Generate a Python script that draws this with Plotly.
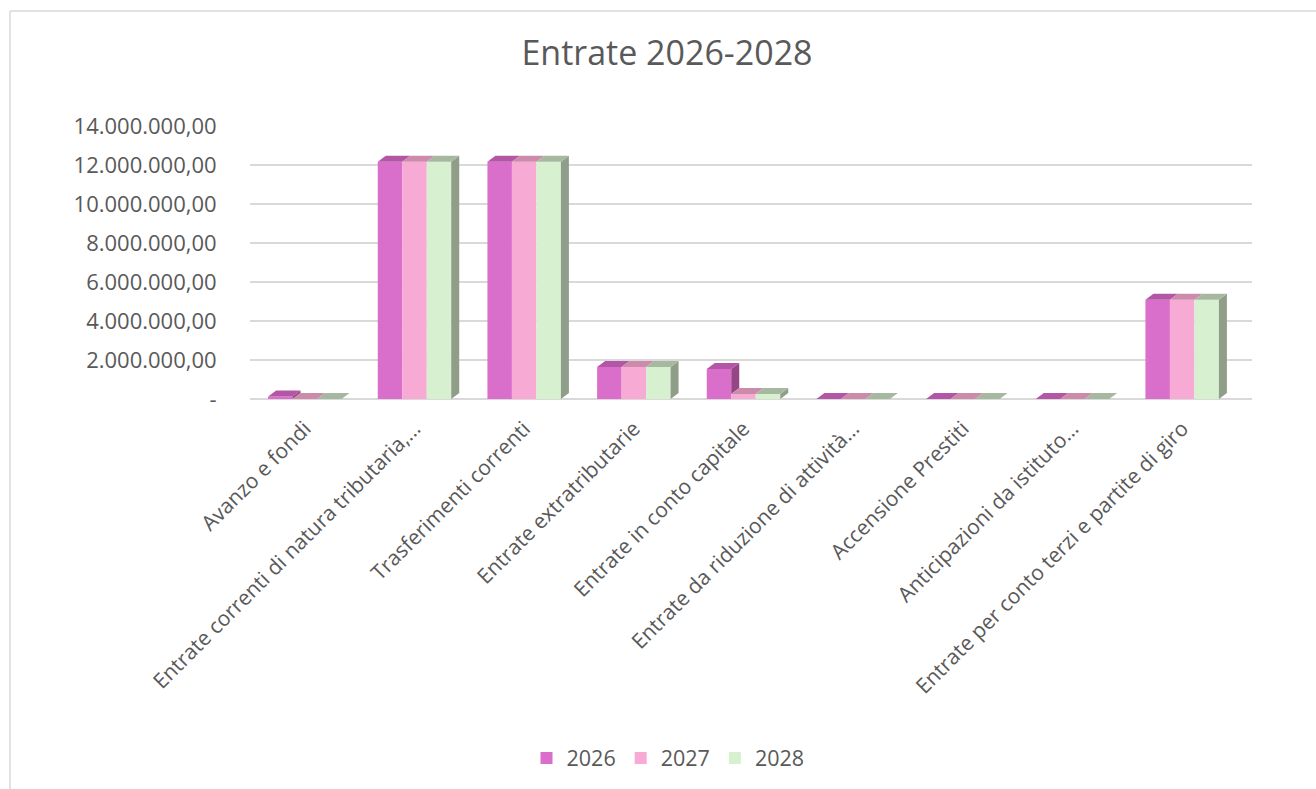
import plotly.graph_objects as go

categories = [
    "Avanzo e fondi",
    "Entrate correnti di natura tributaria,…",
    "Trasferimenti correnti",
    "Entrate extratributarie",
    "Entrate in conto capitale",
    "Entrate da riduzione di attività…",
    "Accensione Prestiti",
    "Anticipazioni da istituto…",
    "Entrate per conto terzi e partite di giro",
]
series_names = ["2026", "2027", "2028"]
values_2026 = [130000, 12170000, 12170000, 1640000, 1540000, 0, 0, 0, 5090000]
values_2027 = [0, 12170000, 12170000, 1640000, 260000, 0, 0, 0, 5090000]
values_2028 = [0, 12170000, 12170000, 1640000, 260000, 0, 0, 0, 5090000]
colors = ["#DA6ECB", "#F6AAD4", "#D7F1D0"]
top_colors = ["#B356A6", "#CC8BAA", "#A6B8A0"]
side_colors = ["#974685", "#B9788F", "#8F9E88"]
tick_vals = [0, 2000000, 4000000, 6000000, 8000000, 10000000, 12000000, 14000000]
tick_text = ["-", "2.000.000,00", "4.000.000,00", "6.000.000,00", "8.000.000,00",
             "10.000.000,00", "12.000.000,00", "14.000.000,00"]

W, H = 1316, 789
L, R, T, B = 250, 64, 126, 390
pw, ph = W - L - R, H - T - B
cat_px = 987 / len(categories)
x_range = [-0.5, -0.5 + pw / cat_px]
y_max = 14000000
bargap = 0.33

all_values = [values_2026, values_2027, values_2028]

fig = go.Figure()
for name, vals, col in zip(series_names, all_values, colors):
    fig.add_trace(go.Bar(x=categories, y=vals, name=name, marker_color=col,
                         marker_line_width=0))

# 3D-like depth faces (decoration derived from the bar values)
n_ser = len(all_values)
bw = (1 - bargap) / n_ser               # bar width in category units
bw_px = bw * cat_px                      # bar width in pixels
dx_px = 8                                # depth shift in pixels
dy = 6 * y_max / ph                      # depth shift in data units
shapes = []
for j in range(len(categories)):
    for i in range(n_ser):
        v = all_values[i][j]
        xa = j + (i - (n_ser - 1) / 2) * bw
        h = bw_px / 2
        low = all_values[i + 1][j] if i < n_ser - 1 else 0
        if v > low:
            shapes.append(dict(type="path", xref="x", yref="y", xsizemode="pixel",
                               xanchor=xa, layer="above", line=dict(width=0),
                               fillcolor=side_colors[i],
                               path=f"M {h},{low} L {h},{v} L {h+dx_px},{v+dy} "
                                    f"L {h+dx_px},{low+dy} Z"))
        shapes.append(dict(type="path", xref="x", yref="y", xsizemode="pixel",
                           xanchor=xa, layer="above", line=dict(width=0),
                           fillcolor=top_colors[i],
                           path=f"M {-h},{v} L {h},{v} L {h+dx_px},{v+dy} "
                                f"L {-h+dx_px},{v+dy} Z"))

shapes += [
    dict(type="line", xref="paper", yref="paper",
         x0=(10 - L) / pw, x1=(1316 - L) / pw,
         y0=(H - B - 11) / ph, y1=(H - B - 11) / ph,
         line=dict(color="#d9d9d9", width=1.5)),
    dict(type="line", xref="paper", yref="paper",
         x0=(10 - L) / pw, x1=(10 - L) / pw,
         y0=(H - B - 11) / ph, y1=(H - B - 800) / ph,
         line=dict(color="#d9d9d9", width=1.5)),
]

font_color = "#595959"
fig.update_layout(
    width=W, height=H,
    margin=dict(l=L, r=R, t=T, b=B),
    paper_bgcolor="white", plot_bgcolor="white",
    font=dict(family="Open Sans", size=21, color=font_color),
    barmode="group", bargap=bargap, bargroupgap=0,
    title=dict(text="Entrate 2026-2028", x=667 / W, xref="container", xanchor="center",
               y=1 - 53 / H, yref="container", yanchor="middle",
               font=dict(size=34, color=font_color)),
    legend=dict(orientation="h", x=668 / W, xref="container", xanchor="center",
                y=1 - 758 / H, yref="container", yanchor="middle",
                font=dict(size=21.5, color=font_color), itemwidth=30,
                traceorder="normal"),
    xaxis=dict(range=x_range, tickangle=-45, showgrid=False, showline=False,
               ticks="outside", ticklen=8, tickcolor="rgba(0,0,0,0)",
               tickfont=dict(size=21)),
    yaxis=dict(range=[0, y_max], tickvals=tick_vals, ticktext=tick_text,
               showgrid=True, gridcolor="#d9d9d9", gridwidth=2, zeroline=True,
               zerolinecolor="#d9d9d9", zerolinewidth=2, showline=False,
               ticks="outside", ticklen=28, tickcolor="rgba(0,0,0,0)",
               tickfont=dict(size=22)),
    shapes=shapes,
)

fig.write_html("out.html", config={"displayModeBar": False},
               post_script="document.body.style.margin='0';document.body.style.overflow='hidden';")
